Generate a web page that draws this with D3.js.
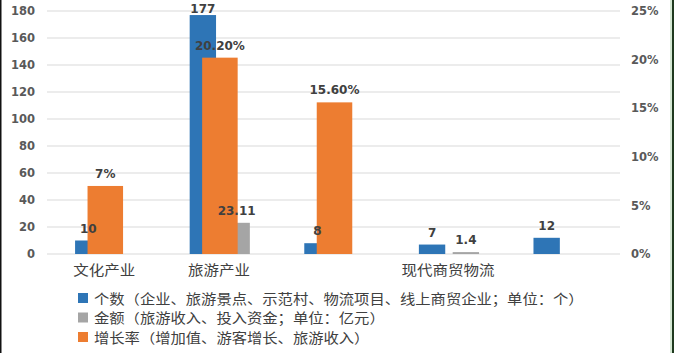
<!DOCTYPE html>
<html>
<head>
<meta charset="utf-8">
<script src="https://cdn.jsdelivr.net/npm/d3@7"></script>
<style>
  body { margin: 0; background: #fff; }
  svg { display: block; }
</style>
</head>
<body>
<svg id="chart"></svg>
<script>
// Data
var categories = ["文化产业", "旅游产业", "", "现代商贸物流", ""];
var counts = [10, 177, 8, 7, 12];          // 个数
var amounts = [null, 23.11, null, 1.4, null]; // 金额 (亿元)
var rates = [7, 20.2, 15.6, null, null];    // 增长率 (%)
var rateLabels = ["7%", "20.20%", "15.60%", "", ""];
var leftTicks = [0, 20, 40, 60, 80, 100, 120, 140, 160, 180];
var rightTicks = [0, 5, 10, 15, 20, 25];
var legendItems = [
  "个数（企业、旅游景点、示范村、物流项目、线上商贸企业；单位：个）",
  "金额（旅游收入、投入资金；单位：亿元）",
  "增长率（增加值、游客增长、旅游收入）"
];

var blue = "#2E75B6", gray = "#A5A5A5", orange = "#ED7D31";
var numFont = "DejaVu Sans, Verdana, sans-serif";
var cjkFont = "Noto Sans CJK SC, sans-serif";

var svgWidth = 674, svgHeight = 353;
var plot = { left: 47, right: 620, top: 11, bottom: 254 };

var svg = d3.select("#chart")
  .attr("width", svgWidth)
  .attr("height", svgHeight);

// frame edges
svg.append("rect").attr("x", 0).attr("y", 0).attr("width", 1.5).attr("height", svgHeight).attr("fill", "#111");
svg.append("rect").attr("x", 670).attr("y", 0).attr("width", 2).attr("height", svgHeight).attr("fill", "#d5e8d4");
svg.append("rect").attr("x", 672).attr("y", 0).attr("width", 2).attr("height", svgHeight).attr("fill", "#1f3a1f");

// scales
var idx = categories.map(function (d, i) { return i; });
var x0 = d3.scaleBand().domain(idx).range([plot.left, plot.right]).padding(0);
var bw = x0.bandwidth();
var x1 = d3.scaleBand().domain(["count", "amount"])
  .range([bw * 0.245, bw * 0.77]).paddingInner(0.22);
var yL = d3.scaleLinear().domain([0, 180]).range([plot.bottom, plot.top]);
var yR = d3.scaleLinear().domain([0, 25]).range([plot.bottom, plot.top]);
var orangeW = bw * 0.31;

// gridlines
svg.append("g").selectAll("line")
  .data(leftTicks)
  .enter().append("line")
  .attr("x1", plot.left).attr("x2", plot.right)
  .attr("y1", function (d) { return yL(d); })
  .attr("y2", function (d) { return yL(d); })
  .attr("stroke", "#d9d9d9").attr("stroke-width", 1);

// left axis
var axL = svg.append("g")
  .attr("transform", "translate(" + (plot.left - 12) + ",0)")
  .call(d3.axisLeft(yL).tickValues(leftTicks).tickSize(0).tickPadding(0));
axL.select(".domain").remove();
axL.selectAll("text")
  .attr("fill", "#595959").style("font-family", numFont)
  .style("font-size", "11.5px").style("font-weight", "bold");

// right axis
var axR = svg.append("g")
  .attr("transform", "translate(631,0)")
  .call(d3.axisRight(yR).tickValues(rightTicks).tickSize(0).tickPadding(0)
    .tickFormat(function (d) { return d + "%"; }));
axR.select(".domain").remove();
axR.selectAll("text")
  .attr("fill", "#595959").style("font-family", numFont)
  .style("font-size", "11.5px").style("font-weight", "bold");

// blue bars
svg.append("g").selectAll("rect")
  .data(counts)
  .enter().append("rect")
  .attr("x", function (d, i) { return x0(i) + x1("count"); })
  .attr("y", function (d) { return yL(d); })
  .attr("width", x1.bandwidth())
  .attr("height", function (d) { return plot.bottom - yL(d); })
  .attr("fill", blue);

// gray bars
var amountData = amounts.map(function (v, i) { return { i: i, v: v }; })
  .filter(function (d) { return d.v != null; });
svg.append("g").selectAll("rect")
  .data(amountData)
  .enter().append("rect")
  .attr("x", function (d) { return x0(d.i) + x1("amount"); })
  .attr("y", function (d) { return yL(d.v); })
  .attr("width", x1.bandwidth())
  .attr("height", function (d) { return Math.max(plot.bottom - yL(d.v), 1); })
  .attr("fill", gray);

// orange bars on secondary axis
var rateData = rates.map(function (v, i) { return { i: i, v: v }; })
  .filter(function (d) { return d.v != null; });
svg.append("g").selectAll("rect")
  .data(rateData)
  .enter().append("rect")
  .attr("x", function (d) { return x0(d.i) + bw / 2 - orangeW / 2 + 1; })
  .attr("y", function (d) { return yR(d.v); })
  .attr("width", orangeW)
  .attr("height", function (d) { return plot.bottom - yR(d.v); })
  .attr("fill", orange);

// data labels
function labelY(top) { return Math.max(top - 8, 13); }
var labels = svg.append("g")
  .attr("fill", "#404040")
  .style("font-family", numFont)
  .style("font-size", "12px")
  .style("font-weight", "bold")
  .attr("text-anchor", "middle");

labels.selectAll(".lc")
  .data(counts)
  .enter().append("text")
  .attr("x", function (d, i) { return x0(i) + x1("count") + x1.bandwidth() / 2; })
  .attr("y", function (d) { return labelY(yL(d)); })
  .text(function (d) { return d; });

labels.selectAll(".la")
  .data(amountData)
  .enter().append("text")
  .attr("x", function (d) { return x0(d.i) + x1("amount") + x1.bandwidth() / 2; })
  .attr("y", function (d) { return labelY(yL(d.v)); })
  .text(function (d) { return d.v; });

labels.selectAll(".lr")
  .data(rateData)
  .enter().append("text")
  .attr("x", function (d) { return x0(d.i) + bw / 2 + 1; })
  .attr("y", function (d) { return labelY(yR(d.v)); })
  .text(function (d) { return rateLabels[d.i]; });

// category labels
svg.append("g").selectAll("text")
  .data(categories)
  .enter().append("text")
  .attr("x", function (d, i) { return x0(i) + bw / 2; })
  .attr("y", 275)
  .attr("text-anchor", "middle")
  .attr("fill", "#404040")
  .style("font-family", cjkFont)
  .style("font-size", "13.5px")
  .attr("textLength", function (d) { return d.length * 15.5; })
  .attr("lengthAdjust", "spacingAndGlyphs")
  .text(function (d) { return d; });

// legend
var legendColors = [blue, gray, orange];
var legend = svg.append("g").selectAll("g")
  .data(legendItems)
  .enter().append("g")
  .attr("transform", function (d, i) { return "translate(78," + (293 + i * 19.5) + ")"; });
legend.append("rect")
  .attr("width", 10).attr("height", 10)
  .attr("fill", function (d, i) { return legendColors[i]; });
legend.append("text")
  .attr("x", 16).attr("y", 10.5)
  .attr("fill", "#404040")
  .style("font-family", cjkFont)
  .style("font-size", "13.5px")
  .attr("textLength", function (d) { return d.length * 15.3; })
  .attr("lengthAdjust", "spacingAndGlyphs")
  .text(function (d) { return d; });
</script>
</body>
</html>
